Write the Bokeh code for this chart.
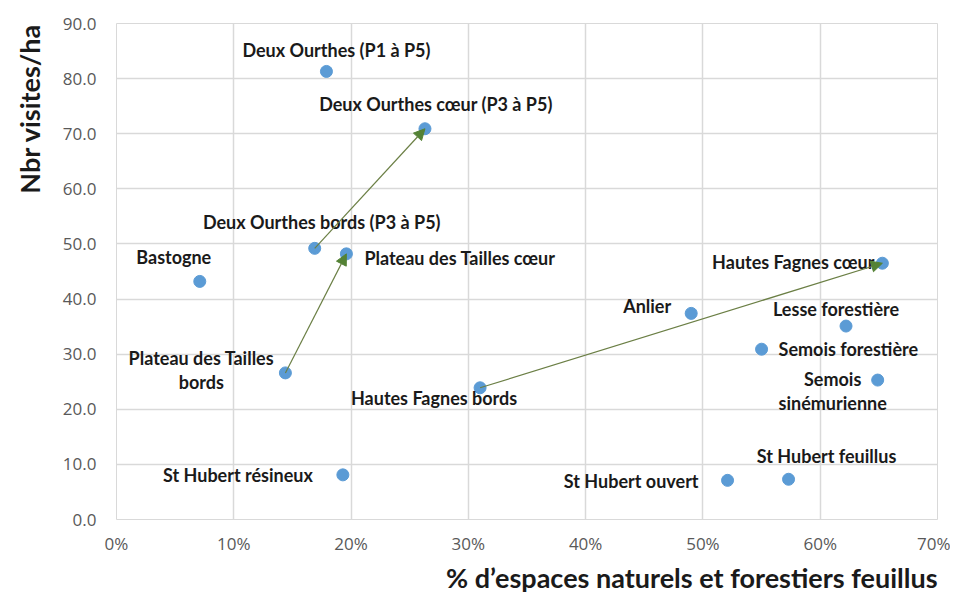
from bokeh.plotting import figure
from bokeh.models import (ColumnDataSource, Arrow, NormalHead, Title, FixedTicker,
                          PrintfTickFormatter, Range1d)
from bokeh.embed import file_html
from bokeh.resources import INLINE

# ---- data ----
names = [
    "Deux Ourthes (P1 à P5)",
    "Deux Ourthes cœur (P3 à P5)",
    "Deux Ourthes bords (P3 à P5)",
    "Plateau des Tailles cœur",
    "Bastogne",
    "Plateau des Tailles\nbords",
    "St Hubert résineux",
    "Hautes Fagnes bords",
    "Hautes Fagnes cœur",
    "Anlier",
    "Lesse forestière",
    "Semois forestière",
    "Semois\nsinémurienne",
    "St Hubert ouvert",
    "St Hubert feuillus",
]
pct_feuillus = [17.9, 26.3, 16.9, 19.6, 7.1, 14.4, 19.3, 31.0, 65.3, 49.0, 62.2, 55.0, 64.9, 52.1, 57.3]
visites_ha = [81.3, 70.9, 49.2, 48.2, 43.2, 26.6, 8.1, 23.9, 46.5, 37.4, 35.1, 30.9, 25.3, 7.1, 7.3]

# arrows: (from, to)
arrow_pairs = [
    ("Deux Ourthes bords (P3 à P5)", "Deux Ourthes cœur (P3 à P5)"),
    ("Plateau des Tailles\nbords", "Plateau des Tailles cœur"),
    ("Hautes Fagnes bords", "Hautes Fagnes cœur"),
]

x_ticks = [0, 10, 20, 30, 40, 50, 60, 70]
y_ticks = [0, 10, 20, 30, 40, 50, 60, 70, 80, 90]

y_title = "Nbr visites/ha"
x_title = "% d\u2019espaces naturels et forestiers feuillus"

# ---- label placement (pixels) ----
label_align = ["center", "center", "center", "left", "center", "center", "right", "center",
               "right", "right", "center", "left", "center", "right", "center"]
label_dx = [10, 11, 7, 18, -26, -84, -30, -46, -8, -20, -10, 17, -45, -29, 38]
label_dy = [-21, -25, -26, 4, -24, -3, 0, 10, -1, -7, -17, 0, 11, 1, -23]

FONT = "Lato"
TICK_FONT = "Open Sans"
GRID = "#d9d9d9"

p = figure(width=950, height=594, output_backend="svg", toolbar_location=None,
           x_range=Range1d(0, 70), y_range=Range1d(0, 90),
           min_border_left=115, min_border_right=13, min_border_top=23, min_border_bottom=74)
p.background_fill_color = "white"
p.border_fill_color = "white"
p.outline_line_color = GRID

p.xaxis.ticker = FixedTicker(ticks=x_ticks)
p.yaxis.ticker = FixedTicker(ticks=y_ticks)
p.xaxis.formatter = PrintfTickFormatter(format="%d%%")
p.yaxis.formatter = PrintfTickFormatter(format="%.1f")
for ax in (p.xaxis[0], p.yaxis[0]):
    ax.axis_line_color = None
    ax.major_tick_line_color = None
    ax.minor_tick_line_color = None
    ax.major_tick_out = 0
    ax.major_tick_in = 0
    ax.minor_tick_out = 0
    ax.minor_tick_in = 0
    ax.major_label_text_font = TICK_FONT
    ax.major_label_text_font_size = "17px"
    ax.major_label_text_color = "#595959"
p.xaxis.major_label_standoff = 12
p.yaxis.major_label_standoff = 20
p.xgrid.grid_line_color = GRID
p.ygrid.grid_line_color = GRID
p.xgrid.grid_line_width = 1.5
p.ygrid.grid_line_width = 1.5

src = ColumnDataSource(dict(x=pct_feuillus, y=visites_ha, name=names,
                            align=label_align, dx=label_dx, dy=label_dy))

# arrows
idx = {n: i for i, n in enumerate(names)}
for a, b in arrow_pairs:
    i, j = idx[a], idx[b]
    p.add_layout(Arrow(end=NormalHead(size=11, fill_color="#548235", line_color="#548235"),
                       x_start=pct_feuillus[i], y_start=visites_ha[i],
                       x_end=pct_feuillus[j], y_end=visites_ha[j],
                       line_color="#6b7f45", line_width=1.2))

p.scatter("x", "y", source=src, size=12, fill_color="#5b9bd5", line_color="#5b9bd5")

p.text("x", "y", text="name", source=src, text_align="align", text_baseline="middle",
       x_offset="dx", y_offset="dy", text_font={"value": FONT}, text_font_style="bold",
       text_font_size="18px", text_color="#1a1a1a", text_line_height=1.1)

yt = Title(text=y_title, align="right", vertical_align="top", text_font=FONT,
           text_font_style="bold", text_font_size="27px", text_color="#1a1a1a", standoff=24)
p.add_layout(yt, "left")
xt = Title(text=x_title, align="right", text_font=FONT,
           text_font_style="bold", text_font_size="27px", text_color="#1a1a1a", standoff=2)
p.add_layout(xt, "below")

open("out.html", "w").write(file_html(p, INLINE))
